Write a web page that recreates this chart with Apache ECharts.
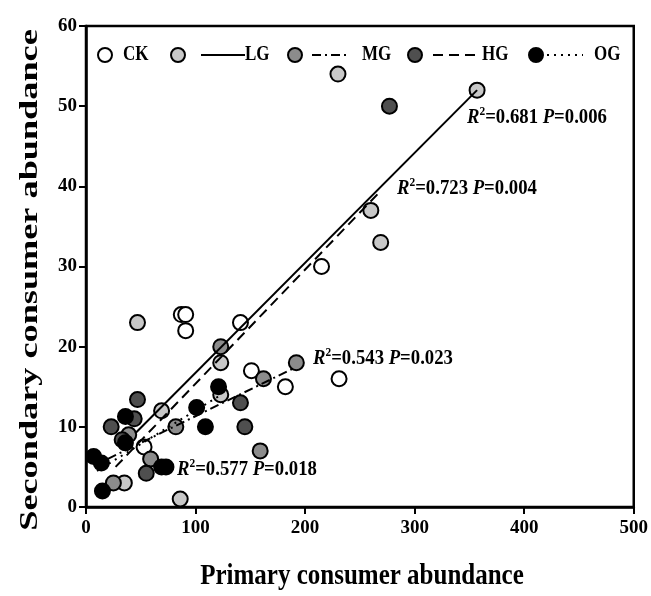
<!DOCTYPE html>
<html>
<head>
<meta charset="utf-8">
<script src="https://cdn.jsdelivr.net/npm/echarts@6/dist/echarts.min.js"></script>
<style>
  html, body { margin: 0; padding: 0; background: #fff; }
  #chart { width: 651px; height: 596px; }
</style>
</head>
<body>
<div id="chart"></div>
<script>
// scatter points [primary, secondary]
const ckPoints = [[87, 24], [91, 24], [91, 22], [141, 23], [215, 30], [231, 16], [151, 17], [182, 15], [53, 7.5]];
const lgPoints = [[357, 52], [230, 54], [260, 37], [269, 33], [47, 23], [123, 18], [123, 14], [69, 12], [35, 3], [86, 1]];
const mgPoints = [[123, 20], [162, 16], [192, 18], [159, 7], [82, 10], [59, 6], [25, 3], [39, 9]];
const hgPoints = [[277, 50], [141, 13], [145, 10], [47, 13.4], [23, 10], [44, 11], [33, 8.4], [55, 4.2]];
const ogPoints = [[121, 15], [101, 12.4], [109, 10], [36, 11.3], [36, 8], [69, 5], [73, 5], [7, 6.3], [14, 5.5], [15, 2]];

// fitted lines, end points
const lgFit = [[45, 9.2], [357, 52]];
const mgFit = [[20, 6], [191, 17.4]];
const hgFit = [[27, 5], [266, 39]];
const ogFit = [[10, 4.5], [121, 13.8]];

const xTicks = [0, 100, 200, 300, 400, 500];
const yTicks = [0, 10, 20, 30, 40, 50, 60];

const fitStats = [
  { r2: '0.681', p: '0.006' },
  { r2: '0.723', p: '0.004' },
  { r2: '0.543', p: '0.023' },
  { r2: '0.577', p: '0.018' }
];

const FONT = '"Liberation Serif", "Times New Roman", serif';
const groupColors = { CK: '#ffffff', LG: '#c8c8c8', MG: '#8c8c8c', HG: '#4f4f4f', OG: '#000000' };

function scatter(name, data) {
  return {
    name, type: 'scatter', data,
    symbol: 'circle', symbolSize: 15,
    itemStyle: { color: groupColors[name], borderColor: '#000', borderWidth: 2, opacity: 1 },
    emphasis: { disabled: true }
  };
}
function fit(data, dash) {
  return {
    type: 'line', data, showSymbol: false, silent: true,
    lineStyle: { color: '#000', width: 2, type: dash }
  };
}

const rich = {
  i: { fontFamily: FONT, fontWeight: 'bold', fontStyle: 'italic', fontSize: 18, fill: '#000', lineHeight: 20 },
  s: { fontFamily: FONT, fontWeight: 'bold', fontSize: 11, fill: '#000', verticalAlign: 'top', lineHeight: 20, padding: [0, 0, 6, 0] },
  b: { fontFamily: FONT, fontWeight: 'bold', fontSize: 18, fill: '#000', lineHeight: 20 }
};
function statLabel(st, x, y) {
  return {
    type: 'text', x, y, z: 100, scaleX: 1.04, scaleY: 1.2,
    style: {
      text: '{i|R}{s|2}{b|=' + st.r2 + ' }{i|P}{b|=' + st.p + '}',
      rich, verticalAlign: 'middle'
    }
  };
}

// legend drawn by hand: circle, line sample, label
const legY = 55;
function legCircle(cx, color) {
  return { type: 'circle', shape: { cx, cy: legY, r: 7 }, style: { fill: color, stroke: '#000', lineWidth: 2 }, z: 100 };
}
function legLine(x1, x2, dash) {
  return { type: 'line', shape: { x1, y1: legY, x2, y2: legY }, style: { stroke: '#000', lineWidth: 2, lineDash: dash }, z: 100 };
}
function legText(x, t) {
  return { type: 'text', x, y: legY, z: 100, scaleY: 1.2, style: { text: t, fontFamily: FONT, fontWeight: 'bold', fontSize: 17, fill: '#000', verticalAlign: 'middle' } };
}

const titleStyle = { fontFamily: FONT, fontWeight: 'bold', fontSize: 25, fill: '#000', align: 'center', verticalAlign: 'middle' };

const chart = echarts.init(document.getElementById('chart'));
chart.setOption({
  animation: false,
  grid: { left: 86, right: 15, top: 26, bottom: 89, show: true, borderColor: '#000', borderWidth: 2.5, backgroundColor: 'transparent' },
  xAxis: {
    type: 'value', min: xTicks[0], max: xTicks[xTicks.length - 1], interval: 100,
    axisLine: { lineStyle: { color: '#000', width: 2.5 } },
    axisTick: { inside: false, length: 7, lineStyle: { color: '#000', width: 2 } },
    axisLabel: { fontFamily: FONT, fontWeight: 'bold', fontSize: 19, color: '#000', margin: 12 },
    splitLine: { show: false }
  },
  yAxis: {
    type: 'value', min: yTicks[0], max: yTicks[yTicks.length - 1], interval: 10,
    axisLine: { lineStyle: { color: '#000', width: 2.5 } },
    axisTick: { inside: false, length: 7, lineStyle: { color: '#000', width: 2 } },
    axisLabel: { fontFamily: FONT, fontWeight: 'bold', fontSize: 19, color: '#000', margin: 9 },
    splitLine: { show: false }
  },
  series: [
    scatter('CK', ckPoints),
    scatter('LG', lgPoints),
    scatter('MG', mgPoints),
    scatter('HG', hgPoints),
    scatter('OG', ogPoints),
    fit(lgFit, 'solid'),
    fit(mgFit, [9, 4, 2, 4]),
    fit(hgFit, [10, 6]),
    fit(ogFit, [2, 5])
  ],
  graphic: [
    legCircle(105, groupColors.CK), legText(123, 'CK'),
    legCircle(178, groupColors.LG), legLine(201, 245, null), legText(245, 'LG'),
    legCircle(295, groupColors.MG), legLine(312, 350, [9, 4, 2, 4]), legText(362, 'MG'),
    legCircle(415, groupColors.HG), legLine(433, 478, [10, 6]), legText(482, 'HG'),
    legCircle(536, groupColors.OG), legLine(547, 583, [2, 5]), legText(594, 'OG'),
    statLabel(fitStats[0], 467, 117),
    statLabel(fitStats[1], 397, 188),
    statLabel(fitStats[2], 313, 358),
    statLabel(fitStats[3], 177, 469),
    { type: 'text', x: 362, y: 576, scaleY: 1.2, style: Object.assign({ text: 'Primary consumer abundance' }, titleStyle) },
    { type: 'text', x: 31, y: 280, rotation: Math.PI / 2, scaleX: 1.45, style: Object.assign({ text: 'Secondary consumer abundance' }, titleStyle) }
  ]
});
</script>
</body>
</html>
